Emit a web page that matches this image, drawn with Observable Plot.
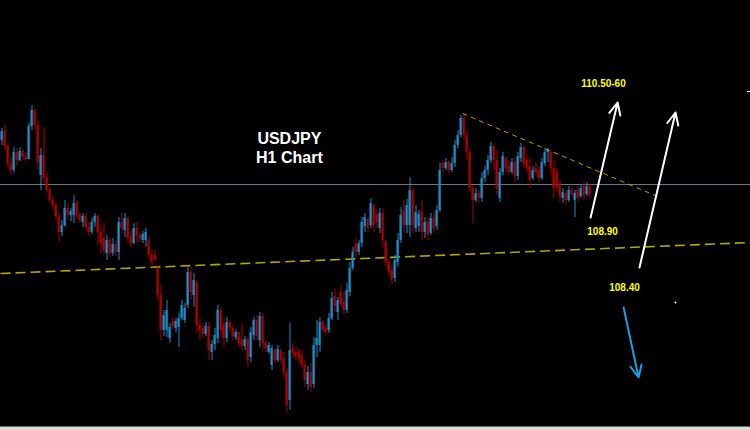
<!DOCTYPE html>
<html>
<head>
<meta charset="utf-8">
<script src="https://cdn.jsdelivr.net/npm/d3@7"></script>
<script src="https://cdn.jsdelivr.net/npm/@observablehq/plot@0.6"></script>
<style>
  html, body { margin: 0; padding: 0; background: #dcdcdc; width: 750px; height: 430px; overflow: hidden; }
  #chart { width: 750px; height: 426px; background: #000; }
  #chart svg { display: block; }
  #edge { width: 750px; height: 1px; background: #6a6a6a; }
</style>
</head>
<body>
<div id="chart"></div>
<div id="edge"></div>
<script>
// USDJPY H1 candles (price values)
const open = [
109.66,109.75,109.60,109.43,109.36,109.54,109.46,109.55,109.49,109.47,
109.80,109.96,109.81,109.31,109.51,109.28,109.16,109.06,109.01,108.90,
108.74,108.81,108.98,108.91,108.91,109.03,108.91,108.84,108.90,108.79,
108.74,108.84,108.90,108.74,108.68,108.53,108.66,108.53,108.62,108.54,
108.84,108.76,108.88,108.70,108.63,108.78,108.71,108.66,108.66,108.66,
108.51,108.51,108.38,108.11,107.76,107.76,107.68,107.85,107.78,107.79,
107.88,107.86,108.01,108.34,108.11,108.24,107.81,107.78,107.72,107.80,
107.54,107.62,107.68,107.96,107.81,107.68,107.84,107.78,107.69,107.74,
107.66,107.60,107.67,107.49,107.71,107.86,107.66,107.90,107.63,107.54,
107.41,107.56,107.46,107.56,107.48,107.34,107.06,107.58,107.54,107.55,
107.51,107.41,107.22,107.34,107.22,107.61,107.61,107.84,107.78,107.76,
107.88,108.10,107.94,108.14,108.04,107.96,108.14,108.38,108.62,108.54,
108.63,108.80,108.87,108.81,109.01,108.91,108.78,108.93,108.64,108.44,
108.36,108.28,108.44,108.66,108.96,108.81,108.81,109.16,108.78,108.80,
108.94,108.74,108.84,108.73,108.88,108.80,108.96,109.43,109.38,109.44,
109.36,109.43,109.61,109.71,109.88,109.71,109.54,109.18,109.06,109.13,
109.08,109.28,109.36,109.46,109.60,109.46,109.08,109.34,109.48,109.40,
109.34,109.44,109.30,109.48,109.59,109.46,109.40,109.28,109.38,109.36,
109.28,109.43,109.54,109.54,109.38,109.34,109.22,109.08,109.13,109.06,
109.16,109.06,109.16,109.10,109.20,109.12,109.20];
const high = [
109.78,109.81,109.63,109.48,109.59,109.58,109.59,109.56,109.54,109.83,
110.01,109.98,109.86,109.58,109.79,109.33,109.19,109.10,109.03,108.93,
108.86,109.06,109.03,108.98,109.11,109.06,108.94,108.93,108.93,108.84,
108.88,108.93,108.92,108.81,108.83,108.71,108.68,108.68,108.66,108.89,
108.93,108.93,108.90,108.76,108.83,108.84,108.74,108.75,108.78,108.70,
108.56,108.56,108.41,108.21,107.96,108.06,107.83,107.88,107.88,107.93,
108.06,108.03,108.39,108.39,108.33,108.26,107.88,107.83,107.84,107.84,
107.66,107.78,108.01,107.99,107.89,107.89,107.86,107.81,107.77,107.74,
107.83,107.70,107.69,107.79,107.89,107.91,107.94,107.93,107.66,107.64,
107.61,107.58,107.61,107.57,107.54,107.38,107.83,107.63,107.59,107.57,
107.56,107.46,107.40,107.43,107.69,107.86,107.89,107.86,107.82,107.93,
108.14,108.17,108.09,108.20,108.14,108.23,108.44,108.59,108.68,108.66,
108.89,108.93,108.89,109.08,109.03,108.96,108.98,108.98,108.66,108.48,
108.41,108.51,108.73,108.99,109.06,109.07,109.29,109.18,109.01,108.96,
109.06,108.89,108.89,108.93,108.94,109.01,109.43,109.46,109.48,109.46,
109.49,109.66,109.76,109.91,109.93,109.76,109.58,109.20,109.18,109.16,
109.34,109.40,109.51,109.64,109.63,109.56,109.38,109.54,109.50,109.46,
109.48,109.48,109.54,109.63,109.60,109.51,109.48,109.40,109.44,109.40,
109.48,109.58,109.58,109.56,109.46,109.38,109.26,109.18,109.16,109.20,
109.19,109.16,109.20,109.22,109.24,109.24,109.22];
const low = [
109.61,109.56,109.38,109.31,109.33,109.40,109.45,109.46,109.45,109.47,
109.76,109.76,109.36,109.16,109.23,109.13,109.03,108.96,108.86,108.64,
108.70,108.79,108.86,108.85,108.83,108.86,108.83,108.79,108.76,108.70,
108.72,108.79,108.61,108.53,108.51,108.46,108.49,108.50,108.50,108.46,
108.73,108.69,108.63,108.59,108.62,108.63,108.64,108.63,108.59,108.46,
108.39,108.44,108.06,107.66,107.70,107.69,107.63,107.76,107.74,107.59,
107.86,107.83,107.98,108.06,107.99,107.73,107.66,107.68,107.70,107.46,
107.46,107.56,107.63,107.69,107.59,107.64,107.73,107.66,107.66,107.59,
107.56,107.56,107.39,107.44,107.66,107.66,107.59,107.56,107.54,107.52,
107.36,107.43,107.44,107.43,107.29,106.93,106.96,107.48,107.46,107.42,
107.38,107.19,107.16,107.14,107.18,107.49,107.54,107.72,107.71,107.73,
107.86,107.94,107.86,107.98,107.92,107.93,108.10,108.36,108.48,108.51,
108.59,108.74,108.74,108.78,108.74,108.78,108.73,108.59,108.39,108.29,
108.22,108.24,108.39,108.63,108.73,108.73,108.69,108.73,108.74,108.74,
108.66,108.68,108.66,108.71,108.73,108.76,108.94,109.34,109.36,109.33,
109.34,109.39,109.58,109.69,109.66,109.46,109.14,108.83,109.04,109.03,
109.04,109.24,109.31,109.43,109.36,109.11,109.04,109.31,109.34,109.31,
109.32,109.24,109.26,109.44,109.38,109.34,109.18,109.26,109.30,109.24,
109.26,109.40,109.44,109.31,109.08,109.14,109.04,109.03,109.01,109.04,
109.09,108.89,109.04,109.08,109.06,109.10,109.08];
const close = [
109.75,109.60,109.43,109.36,109.54,109.46,109.55,109.49,109.47,109.80,
109.96,109.81,109.44,109.51,109.28,109.16,109.06,109.01,108.90,108.74,
108.81,108.98,108.91,108.95,109.03,108.91,108.86,108.90,108.79,108.74,
108.84,108.90,108.74,108.63,108.56,108.66,108.53,108.62,108.54,108.84,
108.78,108.88,108.68,108.63,108.78,108.70,108.68,108.72,108.74,108.51,
108.44,108.46,108.11,107.76,107.91,107.96,107.79,107.79,107.85,107.88,
108.01,107.98,108.34,108.14,108.26,107.81,107.76,107.72,107.80,107.56,
107.62,107.71,107.96,107.76,107.68,107.84,107.78,107.70,107.74,107.63,
107.61,107.67,107.46,107.74,107.86,107.70,107.90,107.63,107.58,107.61,
107.58,107.46,107.57,107.46,107.34,107.01,107.56,107.53,107.50,107.48,
107.41,107.26,107.34,107.19,107.61,107.68,107.84,107.76,107.74,107.88,
108.08,108.00,108.06,108.02,107.96,108.16,108.38,108.54,108.54,108.63,
108.84,108.89,108.78,109.03,108.81,108.84,108.93,108.66,108.44,108.34,
108.26,108.46,108.66,108.91,108.81,109.01,109.16,108.81,108.94,108.92,
108.74,108.84,108.71,108.88,108.78,108.96,109.36,109.38,109.44,109.36,
109.43,109.61,109.71,109.88,109.71,109.54,109.18,109.06,109.13,109.08,
109.28,109.36,109.46,109.60,109.46,109.18,109.34,109.50,109.38,109.34,
109.44,109.30,109.50,109.59,109.43,109.38,109.26,109.36,109.34,109.28,
109.44,109.54,109.57,109.38,109.18,109.20,109.10,109.14,109.06,109.16,
109.12,109.13,109.08,109.18,109.11,109.20,109.12];

// Annotations (bar index, price)
const currentPrice = [109.22];
const supportLine = [{x1: -0.5, p1: 108.33, x2: 249.5, p2: 108.64}];
const resistanceLine = [{x1: 153.5, p1: 109.93, x2: 218.5, p2: 109.10}];
const upArrows = [
  {x1: 196.2, p1: 108.89, x2: 205.2, p2: 110.04},
  {x1: 212.5, p1: 108.39, x2: 224.5, p2: 109.94}
];
const downArrows = [{x1: 207.2, p1: 107.99, x2: 212.2, p2: 107.29}];
const levelLabels = [
  {x: 200.5, p: 110.23, text: "110.50-60"},
  {x: 200.2, p: 108.75, text: "108.90"},
  {x: 207.5, p: 108.19, text: "108.40"}
];
const titleLines = [
  {x: 95.8, p: 109.68, text: "USDJPY"},
  {x: 95.8, p: 109.49, text: "H1 Chart"}
];
const whiteMarks = [{x: 224.5, p: 108.04}];
const whiteDash = [{x1: 248.3, x2: 249.5, p: 110.15}];

const candles = close.map((c, i) => ({i, open: open[i], high: high[i], low: low[i], close: c}));
const UP = "#1b8fce", DOWN = "#b00000";
const col = d => d.close >= d.open ? UP : DOWN;

const chart = Plot.plot({
  width: 750,
  height: 426,
  margin: 0,
  x: {domain: [-0.5, 249.5], axis: null},
  y: {domain: [106.80, 111.06], axis: null},
  style: {background: "#000", fontFamily: "'Liberation Sans', Arial, sans-serif"},
  marks: [
    Plot.ruleY(currentPrice, {stroke: "#6c7686", strokeWidth: 1}),
    Plot.link(supportLine, {x1: "x1", y1: "p1", x2: "x2", y2: "p2", stroke: "#b3a600", strokeWidth: 1.6, strokeDasharray: "10,5"}),
    Plot.ruleX(candles, {x: "i", y1: "low", y2: "high", stroke: col, strokeWidth: 1}),
    Plot.rect(candles, {x1: d => d.i - 0.35, x2: d => d.i + 0.35, y1: "open", y2: "close", fill: col}),
    Plot.link(resistanceLine, {x1: "x1", y1: "p1", x2: "x2", y2: "p2", stroke: "#b0a400", strokeWidth: 1, strokeDasharray: "5,4"}),
    Plot.arrow(upArrows, {x1: "x1", y1: "p1", x2: "x2", y2: "p2", stroke: "#ffffff", strokeWidth: 2, headLength: 10, headAngle: 50, inset: 0}),
    Plot.arrow(downArrows, {x1: "x1", y1: "p1", x2: "x2", y2: "p2", stroke: "#1e9ee0", strokeWidth: 2, headLength: 10, headAngle: 50, inset: 0}),
    Plot.dot(whiteMarks, {x: "x", y: "p", r: 1, fill: "#ffffff", stroke: "none"}),
    Plot.link(whiteDash, {x1: "x1", x2: "x2", y1: "p", y2: "p", stroke: "#ffffff", strokeWidth: 1}),
    Plot.text(levelLabels, {x: "x", y: "p", text: "text", fill: "#ffff00", fontSize: 10, fontWeight: "bold"}),
    Plot.text(titleLines, {x: "x", y: "p", text: "text", fill: "#ffffff", fontSize: 16, fontWeight: "bold"})
  ]
});
document.getElementById("chart").appendChild(chart);
</script>
</body>
</html>
